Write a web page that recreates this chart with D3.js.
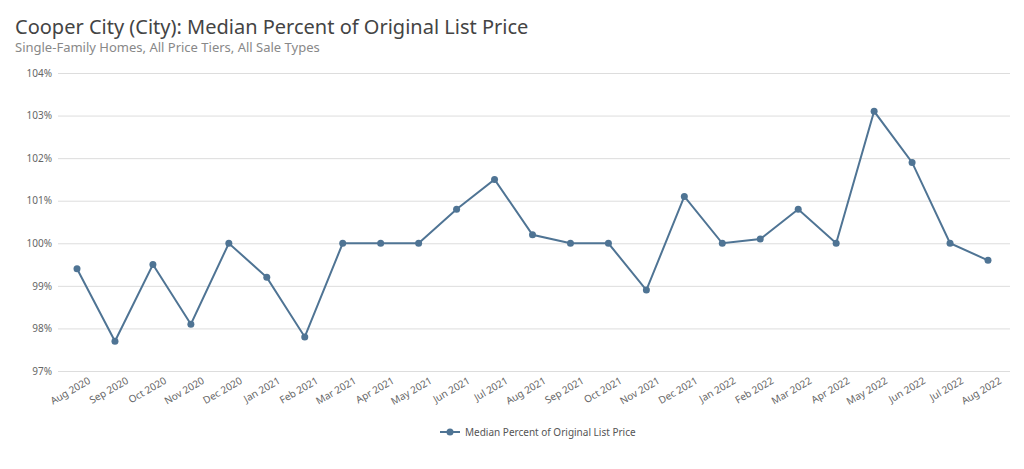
<!DOCTYPE html>
<html><head><meta charset="utf-8">
<script src="https://cdn.jsdelivr.net/npm/d3@7"></script>
<style>body{margin:0;background:#fff;font-family:"Noto Sans",sans-serif}</style>
</head><body><div id="chart"></div>
<script>
const months = ["Aug 2020","Sep 2020","Oct 2020","Nov 2020","Dec 2020","Jan 2021","Feb 2021","Mar 2021","Apr 2021","May 2021","Jun 2021","Jul 2021","Aug 2021","Sep 2021","Oct 2021","Nov 2021","Dec 2021","Jan 2022","Feb 2022","Mar 2022","Apr 2022","May 2022","Jun 2022","Jul 2022","Aug 2022"];
const values = [99.4,97.7,99.5,98.1,100,99.2,97.8,100,100,100,100.8,101.5,100.2,100,100,98.9,101.1,100,100.1,100.8,100,103.1,101.9,100,99.6];
const yTicks = [97,98,99,100,101,102,103,104];
const seriesName = "Median Percent of Original List Price";

const width = 1024, height = 469;
const color = "#4f7494";
const svg = d3.select("#chart").append("svg").attr("width", width).attr("height", height);

svg.append("text").attr("x", 15).attr("y", 34).attr("font-size", 20).attr("fill", "#444")
  .text("Cooper City (City): Median Percent of Original List Price");
svg.append("text").attr("x", 15).attr("y", 52).attr("font-size", 13).attr("fill", "#888")
  .text("Single-Family Homes, All Price Tiers, All Sale Types");

const x = d3.scalePoint().domain(months).range([77, 988]);
const y = d3.scaleLinear().domain([97, 104]).range([371, 73]);

svg.append("g").attr("transform", "translate(58,0)")
  .call(d3.axisLeft(y).tickValues(yTicks).tickSize(-952).tickFormat(d => d + "%"))
  .call(g => g.select(".domain").remove())
  .call(g => g.selectAll(".tick line").attr("stroke", "#ddd"))
  .call(g => g.selectAll(".tick text").attr("x", -6).attr("fill", "#666").attr("font-size", 10).style("font-family", "Noto Sans"));

svg.append("g").attr("transform", "translate(0,371)")
  .call(d3.axisBottom(x).tickSize(0))
  .call(g => g.select(".domain").remove())
  .call(g => g.selectAll(".tick text")
    .attr("fill", "#666").attr("font-size", 10).style("font-family", "Noto Sans")
    .attr("text-anchor", "end").attr("dx", "6").attr("dy", "14")
    .attr("transform", "rotate(-30)"));

const line = d3.line().x((d, i) => x(months[i])).y(d => y(d));
svg.append("path").datum(values).attr("d", line).attr("fill", "none")
  .attr("stroke", color).attr("stroke-width", 2);
svg.selectAll("circle.pt").data(values).join("circle").attr("class", "pt")
  .attr("cx", (d, i) => x(months[i])).attr("cy", d => y(d)).attr("r", 3.5).attr("fill", color);

const lg = svg.append("g").attr("transform", "translate(440,432)");
lg.append("line").attr("x1", 0).attr("x2", 20).attr("stroke", color).attr("stroke-width", 2);
lg.append("circle").attr("cx", 10).attr("r", 3.5).attr("fill", color);
lg.append("text").attr("x", 25).attr("dy", "0.35em").attr("font-size", 10).attr("fill", "#555").text(seriesName);
</script></body></html>
